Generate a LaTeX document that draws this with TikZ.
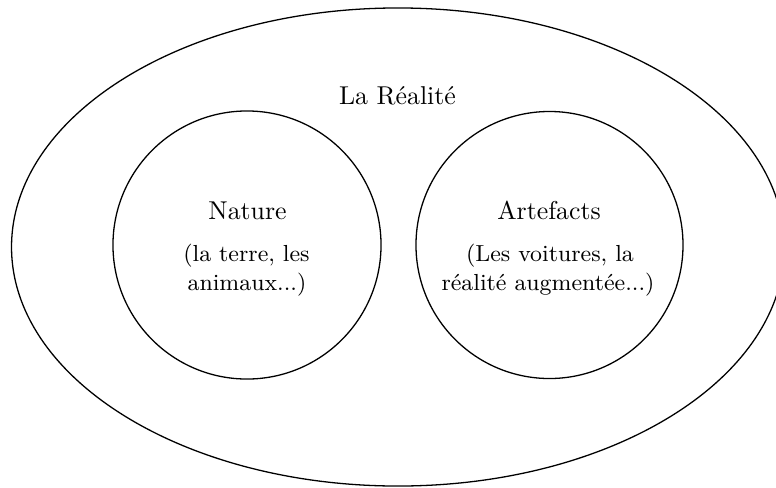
\documentclass[tikz,border=0pt]{standalone}
\usetikzlibrary{shapes.geometric}
\begin{document}
\begin{tikzpicture}[x=0.3876pt,y=-0.3876pt,
  outline/.style={draw=black,line width=0.5pt,inner sep=0pt},
  bigtitle/.style={anchor=base,inner sep=0pt,font=\normalsize},
  subline/.style={anchor=base,inner sep=0pt,font=\small}]
\useasboundingbox (0,0) rectangle (776,487);
\clip (0,0) rectangle (776,487);
\node[outline,ellipse,minimum width=299.6pt,minimum height=185.3pt] (realite) at (398,247) {};
\node[outline,circle,minimum size=103.9pt] (nature) at (247,245) {};
\node[outline,circle,minimum size=103.5pt] (artefacts) at (549.5,245) {};
\node[bigtitle] (tR) at (397.5,104) {La Réalité};
\node[bigtitle] (tN) at (247.5,219.3) {Nature};
\node[subline] (tN1) at (246.5,261) {(la terre, les};
\node[subline] (tN2) at (247,290) {animaux...)};
\node[bigtitle] (tA) at (549,219.3) {Artefacts};
\node[subline] (tA1) at (550,261) {(Les voitures, la};
\node[subline] (tA2) at (548,290) {réalité augmentée...)};
\end{tikzpicture}
\end{document}
